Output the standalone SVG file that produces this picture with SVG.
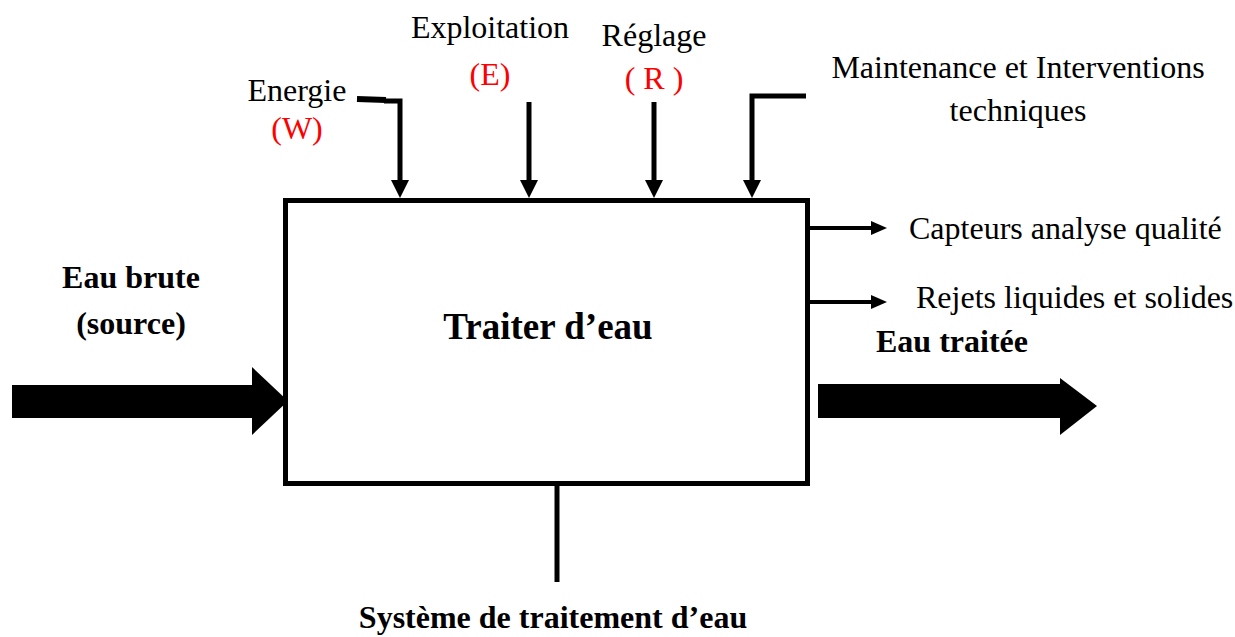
<svg xmlns="http://www.w3.org/2000/svg" width="1235" height="637" viewBox="0 0 1235 637">
  <style>
    .t { font-family: "Liberation Serif", "Times New Roman", serif; fill: #000; }
    .n { font-size: 32px; }
    .b { font-size: 32px; font-weight: bold; }
    .red { fill: #ff0000; }
    .ln { stroke: #000; stroke-width: 5; fill: none; }
    .thin { stroke: #000; stroke-width: 4; fill: none; }
  </style>

  <!-- central activity box -->
  <g id="node-traiter">
    <rect x="285.5" y="200.5" width="522" height="283" fill="#fff" stroke="#000" stroke-width="5"/>
    <text class="t" x="548" y="339" text-anchor="middle" font-size="37" font-weight="bold">Traiter d’eau</text>
  </g>

  <!-- labels -->
  <g id="node-energie">
    <text class="t n" x="297" y="101" text-anchor="middle">Energie</text>
    <text class="t n red" x="297" y="139" text-anchor="middle">(W)</text>
  </g>
  <g id="node-exploitation">
    <text class="t n" x="490" y="38" text-anchor="middle">Exploitation</text>
    <text class="t n red" x="490" y="85" text-anchor="middle">(E)</text>
  </g>
  <g id="node-reglage">
    <text class="t n" x="654" y="46" text-anchor="middle">Réglage</text>
    <text class="t n red" x="654" y="89" text-anchor="middle" font-size="27">( R )</text>
  </g>
  <g id="node-maintenance">
    <text class="t n" x="1018" y="78" text-anchor="middle">Maintenance et Interventions</text>
    <text class="t n" x="1018" y="121" text-anchor="middle">techniques</text>
  </g>
  <g id="node-capteurs">
    <text class="t n" x="909" y="239">Capteurs analyse qualité</text>
  </g>
  <g id="node-rejets">
    <text class="t n" x="916" y="308">Rejets liquides et solides</text>
  </g>
  <g id="node-eau-traitee">
    <text class="t b" x="876" y="352">Eau traitée</text>
  </g>
  <g id="node-eau-brute">
    <text class="t b" x="131" y="288" text-anchor="middle">Eau brute</text>
    <text class="t b" x="131" y="334" text-anchor="middle">(source)</text>
  </g>
  <g id="node-systeme">
    <text class="t b" x="553" y="628" text-anchor="middle">Système de traitement d’eau</text>
  </g>

  <!-- connectors -->
  <g id="connectors">
    <!-- energy input -->
    <path d="M357,99 L386,100" stroke="#000" stroke-width="6" fill="none"/>
    <path class="ln" d="M384,101 L400,101 L400,182"/>
    <path d="M391,180 L409,180 L400,198 z" fill="#000"/>
    <!-- exploitation input -->
    <path class="ln" d="M529,102 L529,182"/>
    <path d="M520,180 L538,180 L529,198 z" fill="#000"/>
    <!-- setting input -->
    <path class="ln" d="M654,102 L654,182"/>
    <path d="M645,180 L663,180 L654,198 z" fill="#000"/>
    <!-- maintenance input -->
    <path class="ln" d="M806,96 L752,96 L752,182"/>
    <path d="M743,180 L761,180 L752,198 z" fill="#000"/>
    <!-- side outputs -->
    <path class="thin" d="M810,228 L873,228"/>
    <path d="M871,221 L887,228 L871,235 z" fill="#000"/>
    <path class="thin" d="M810,302 L873,302"/>
    <path d="M871,295 L887,302 L871,309 z" fill="#000"/>
    <!-- mechanism -->
    <path class="ln" d="M557,484 L557,582"/>
    <!-- raw water inflow -->
    <path d="M12,385 L252,385 L252,367 L288,401 L252,435 L252,418 L12,418 z" fill="#000"/>
    <!-- treated water outflow -->
    <path d="M818,384 L1060,384 L1060,378 L1097,406 L1060,435 L1060,418 L818,418 z" fill="#000"/>
  </g>
</svg>
